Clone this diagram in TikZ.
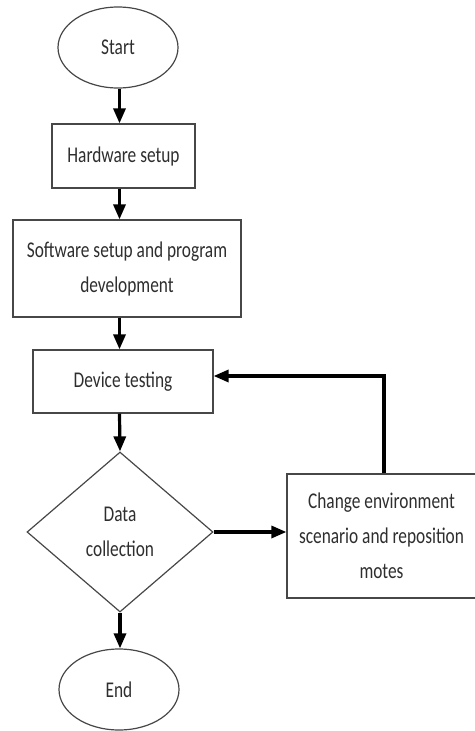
\documentclass[tikz,border=0pt]{standalone}
\usepackage{fontspec}
\setmainfont{Carlito}[FakeStretch=0.77]
\usetikzlibrary{shapes.geometric,arrows.meta}
\begin{document}
\begin{tikzpicture}[x=1pt,y=-1pt,
  every node/.style={font=\fontsize{22.5}{35}\selectfont, text=black!82},
  box/.style={draw=black!72, line width=1.2pt, rectangle, inner sep=0pt, align=center},
  term/.style={draw=black!72, line width=1.2pt, ellipse, inner sep=0pt},
  dec/.style={draw=black!72, line width=1.2pt, diamond, inner sep=0pt, align=center},
  flow/.style={line width=3.2pt, -{Triangle[length=15pt,width=12pt]}}]
\useasboundingbox (0,0) rectangle (474,731);
\node[term, minimum width=120pt, minimum height=81pt] (start) at (118,47.5) {Start};
\node[box, minimum width=143pt, minimum height=64pt] (hw) at (123.5,156) {Hardware setup};
\node[box, minimum width=228pt, minimum height=97pt] (sw) at (127,268.5) {Software setup and program\\development};
\node[box, minimum width=180pt, minimum height=63pt] (dev) at (123,381.5) {Device testing};
\node[dec, minimum width=186pt, minimum height=160pt, aspect=1.16] (dc) at (120,532) {Data\\collection};
\node[term, minimum width=120pt, minimum height=81pt] (end) at (119,689.5) {End};
\node[box, minimum width=189pt, minimum height=124pt] (chg) at (381.5,536) {Change environment\\scenario and reposition\\motes};
\coordinate (ax) at (119.5,0);
\coordinate (fb) at (384,376);
\draw[flow] (ax |- start.south) -- (ax |- hw.north);
\draw[flow] (ax |- hw.south) -- (ax |- sw.north);
\draw[flow] (ax |- sw.south) -- (ax |- dev.north);
\draw[flow] (ax |- dev.south) -- (dc.north);
\draw[flow] (dc.south) -- (dc.south |- end.north);
\draw[flow] (dc.east) -- (dc.east -| chg.west);
\draw[flow] (fb |- chg.north) -- (fb) -- (fb -| dev.east);
\end{tikzpicture}
\end{document}
